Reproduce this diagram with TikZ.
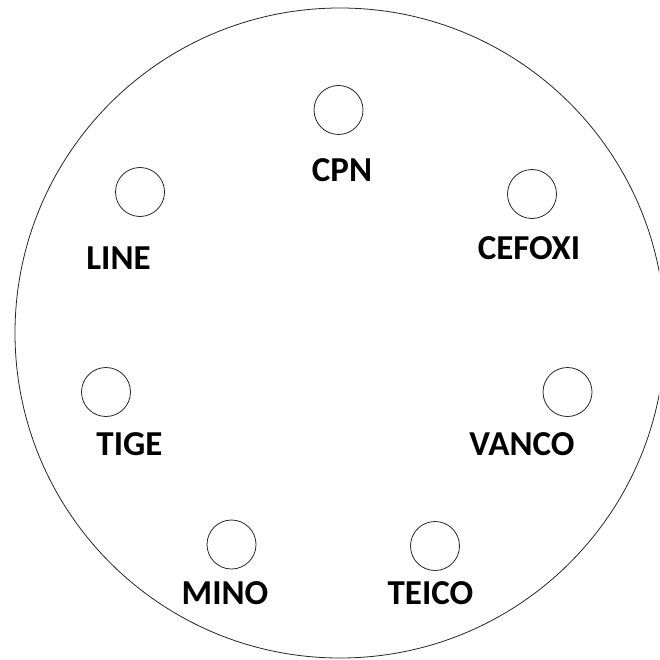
\documentclass[tikz,border=0pt]{standalone}
\usepackage{fontspec}
\setmainfont{Carlito}

\begin{document}
\begin{tikzpicture}[x=1pt,y=-1pt,
  hole/.style={draw=black!85,line width=0.8pt,circle,minimum size=49pt,inner sep=0pt},
  drug/.style={anchor=base,font=\fontsize{35}{42}\selectfont\bfseries,inner sep=0pt}]
  \useasboundingbox (0,0) rectangle (659,660);
  \clip (0,0) rectangle (659,660);
  \draw[black!85,line width=0.8pt] (340,333) circle (325);
  \node[hole] (cpn) at (338.5,110) {};
  \node[hole] (line) at (140,192) {};
  \node[hole] (cefoxi) at (532,194) {};
  \node[hole] (tige) at (106,392) {};
  \node[hole] (vanco) at (567.5,392) {};
  \node[hole] (mino) at (231.5,544.5) {};
  \node[hole] (teico) at (435,546) {};
  \node[drug] (cpnlabel) at (342,181.5) {CPN};
  \node[drug] (linelabel) at (118.5,269) {LINE};
  \node[drug] (cefoxilabel) at (529,259) {CEFOXI};
  \node[drug] (tigelabel) at (129.5,455) {TIGE};
  \node[drug] (vancolabel) at (522,455) {VANCO};
  \node[drug] (minolabel) at (225,604) {MINO};
  \node[drug] (teicolabel) at (430.5,604) {TEICO};
\end{tikzpicture}
\end{document}
